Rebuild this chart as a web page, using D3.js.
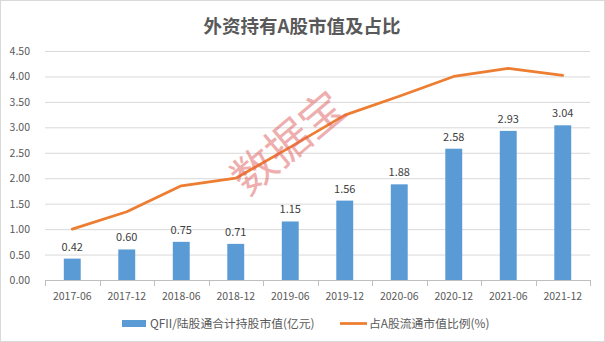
<!DOCTYPE html>
<html><head><meta charset="utf-8">
<script src="https://cdn.jsdelivr.net/npm/d3@7"></script>
<style>body{margin:0;background:#fff}svg{display:block}</style>
</head><body>
<script>
const categories = ["2017-06","2017-12","2018-06","2018-12","2019-06","2019-12","2020-06","2020-12","2021-06","2021-12"];
const holdings = [0.42,0.60,0.75,0.71,1.15,1.56,1.88,2.58,2.93,3.04];
const ratio = [1.00,1.34,1.85,2.00,2.61,3.24,3.61,4.00,4.16,4.02];
const yTicks = [0,0.5,1,1.5,2,2.5,3,3.5,4,4.5];
const barName = "QFII/陆股通合计持股市值(亿元)";
const lineName = "占A股流通市值比例(%)";
const title = "外资持有A股市值及占比";

const W=605,H=342;
const font = "'Microsoft YaHei','Noto Sans CJK SC',sans-serif";
const svg = d3.select("body").append("svg").attr("width",W).attr("height",H);
svg.append("rect").attr("x",0.5).attr("y",0.5).attr("width",W-1).attr("height",H-1).attr("fill","#fff").attr("stroke","#d9d9d9");

const x = d3.scaleBand().domain(categories).range([45,590]);
const y = d3.scaleLinear().domain([0,4.5]).range([280,51]);

svg.append("text").attr("x",302).attr("y",33).attr("text-anchor","middle")
  .attr("font-family",font).attr("font-size",18.5).attr("font-weight","bold").attr("fill","#595959").text(title);

// grid
svg.append("g").selectAll("line").data(yTicks.filter(d=>d>0)).join("line")
  .attr("x1",45).attr("x2",590).attr("y1",d=>y(d)+0.5).attr("y2",d=>y(d)+0.5)
  .attr("stroke","#d9d9d9").attr("stroke-width",1);

// y labels
svg.append("g").selectAll("text").data(yTicks).join("text")
  .attr("x",30).attr("y",d=>y(d)+4).attr("text-anchor","end")
  .attr("font-family",font).attr("font-size",10.5).attr("fill","#595959")
  .text(d=>d.toFixed(2));

// x axis
const xAxis = d3.axisBottom(x).tickSize(0).tickPadding(12);
const gx = svg.append("g").attr("transform","translate(0,280.5)").call(xAxis);
gx.select(".domain").attr("stroke","#bfbfbf").attr("d","M45,0H590");
gx.selectAll("text").attr("font-family",font).attr("font-size",10.5).attr("fill","#595959");
const bounds = categories.map(c=>x(c)).concat([x.range()[1]]);
svg.append("g").selectAll("line").data(bounds).join("line")
  .attr("x1",d=>Math.round(d)+0.5).attr("x2",d=>Math.round(d)+0.5).attr("y1",280).attr("y2",286)
  .attr("stroke","#bfbfbf");

// bars
const bw = x.bandwidth()*0.31;
svg.append("g").selectAll("rect").data(categories).join("rect")
  .attr("x",(d)=>x(d)+x.bandwidth()/2-bw/2).attr("width",bw)
  .attr("y",(d,i)=>y(holdings[i])).attr("height",(d,i)=>280-y(holdings[i]))
  .attr("fill","#5b9bd5");

// line
const line = d3.line().x((d,i)=>x(categories[i])+x.bandwidth()/2).y(d=>y(d));
svg.append("path").datum(ratio).attr("d",line).attr("fill","none")
  .attr("stroke","#ed7d31").attr("stroke-width",2.75).attr("stroke-linejoin","round").attr("stroke-linecap","round");

// watermark
svg.append("text").attr("transform","translate(286,140) rotate(-40)").attr("text-anchor","middle")
  .attr("dominant-baseline","central")
  .attr("font-family",font).attr("font-size",44).attr("fill","#e06060").attr("opacity",0.5).text("数据宝");

// bar labels
svg.append("g").selectAll("text").data(categories).join("text")
  .attr("x",d=>x(d)+x.bandwidth()/2).attr("y",(d,i)=>y(holdings[i])-8)
  .attr("text-anchor","middle").attr("font-family",font).attr("font-size",11).attr("fill","#404040")
  .text((d,i)=>holdings[i].toFixed(2));

// legend
const lg = svg.append("g");
lg.append("rect").attr("x",122).attr("y",320).attr("width",24).attr("height",7).attr("fill","#5b9bd5");
lg.append("text").attr("x",150).attr("y",328).attr("font-family",font).attr("font-size",11.8).attr("fill","#595959").text(barName);
lg.append("line").attr("x1",340).attr("x2",367).attr("y1",323.5).attr("y2",323.5).attr("stroke","#ed7d31").attr("stroke-width",2.75);
lg.append("text").attr("x",369).attr("y",328).attr("font-family",font).attr("font-size",11.8).attr("fill","#595959").text(lineName);
</script>
</body></html>
